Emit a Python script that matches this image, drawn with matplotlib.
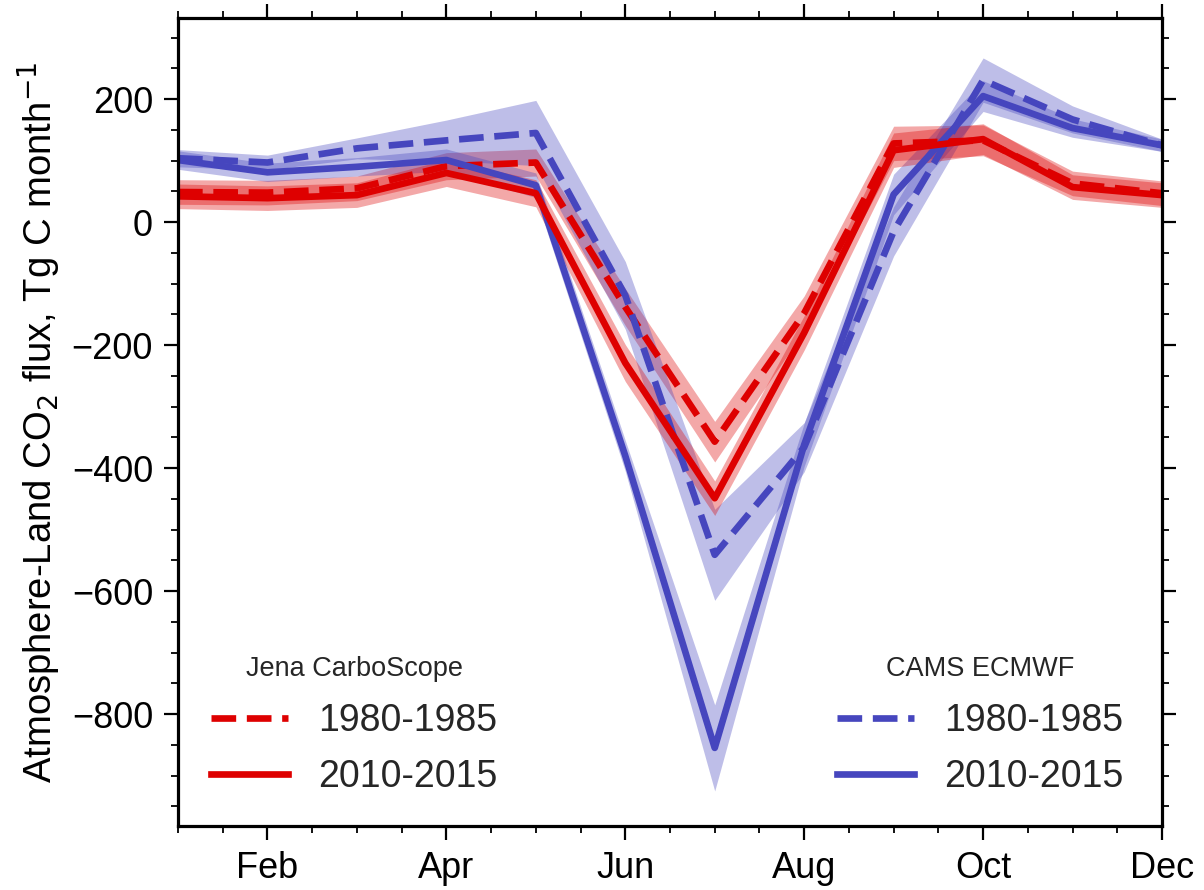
import matplotlib
matplotlib.use("Agg")
import matplotlib.pyplot as plt
import numpy as np
from matplotlib.ticker import MultipleLocator
from matplotlib.lines import Line2D

plt.rcParams['font.family'] = ['Liberation Sans', 'DejaVu Sans']

months = [1, 2, 3, 4, 5, 6, 7, 8, 9, 10, 11, 12]
tick_months = [2, 4, 6, 8, 10, 12]
tick_labels = ["Feb", "Apr", "Jun", "Aug", "Oct", "Dec"]

# Jena CarboScope
jena_8085 = [49, 48, 55, 91, 97, -138, -357, -148, 128, 133, 63, 47]
jena_8085_unc = [20, 20, 20, 22, 22, 30, 33, 28, 28, 25, 20, 20]
jena_1015 = [42, 39, 44, 80, 47, -229, -449, -180, 117, 135, 57, 44]
jena_1015_unc = [20, 20, 20, 22, 22, 30, 28, 28, 28, 25, 20, 20]

# CAMS ECMWF
cams_8085 = [104, 97, 120, 133, 145, -119, -541, -366, -15, 231, 167, 125]
cams_8085_unc = [14, 12, 17, 33, 53, 55, 74, 40, 40, 36, 22, 10]
cams_1015 = [101, 81, 90, 101, 60, -380, -855, -362, 45, 205, 153, 125]
cams_1015_unc = [15, 15, 15, 18, 20, 25, 70, 35, 33, 25, 15, 10]

red = "#de0000"
blue = "#4646be"
lw = 4.8

fig = plt.figure(figsize=(12.04, 8.9), dpi=100)
ax = fig.add_axes([178/1204, 1-826/890, (1162-178)/1204, (826-18)/890])

def series(vals, unc, color, ls, alpha):
    v = np.array(vals, float)
    u = np.array(unc, float)
    ax.plot(months, v, color=color, lw=lw, ls=ls)
    ax.fill_between(months, v - u, v + u, color=color, alpha=alpha, lw=0)

series(jena_8085, jena_8085_unc, red, '--', 0.34)
series(cams_8085, cams_8085_unc, blue, '--', 0.35)
series(cams_1015, cams_1015_unc, blue, '-', 0.35)
series(jena_1015, jena_1015_unc, red, '-', 0.34)

ax.set_xlim(1, 12)
ax.set_ylim(-982, 332)
ax.set_xticks(tick_months)
ax.set_xticklabels(tick_labels)
ax.xaxis.set_minor_locator(MultipleLocator(0.5))
ax.yaxis.set_major_locator(MultipleLocator(200))
ax.yaxis.set_minor_locator(MultipleLocator(50))
ax.tick_params(which='both', direction='out', top=True, right=True,
               labeltop=False, labelright=False, labelsize=26, colors='black')
ax.tick_params(which='major', length=10, width=1.6, pad=8)
ax.tick_params(which='minor', length=5, width=1.3)
for s in ax.spines.values():
    s.set_linewidth(2.3)

ax.set_ylabel("Atmosphere-Land CO$_2$ flux, Tg C month$^{-1}$", fontsize=27.5, labelpad=6)

def make_legend(color, title, anchor):
    handles = [Line2D([], [], color=color, lw=lw, ls='--'),
               Line2D([], [], color=color, lw=lw, ls='-')]
    leg = ax.legend(handles, ["1980-1985", "2010-2015"], title=title,
                    loc='lower left', bbox_to_anchor=anchor, frameon=False,
                    fontsize=27, title_fontsize=19.5, handlelength=2.05,
                    handletextpad=0.8, labelspacing=0.55, borderpad=0,
                    borderaxespad=0)
    for t in leg.get_texts():
        t.set_color('#262626')
    leg.get_title().set_color('#262626')
    return leg

leg1 = make_legend(red, "Jena CarboScope", (0.034, 0.038))
ax.add_artist(leg1)
leg2 = make_legend(blue, "CAMS ECMWF", (0.670, 0.038))

fig.savefig("out.png", dpi=100)
